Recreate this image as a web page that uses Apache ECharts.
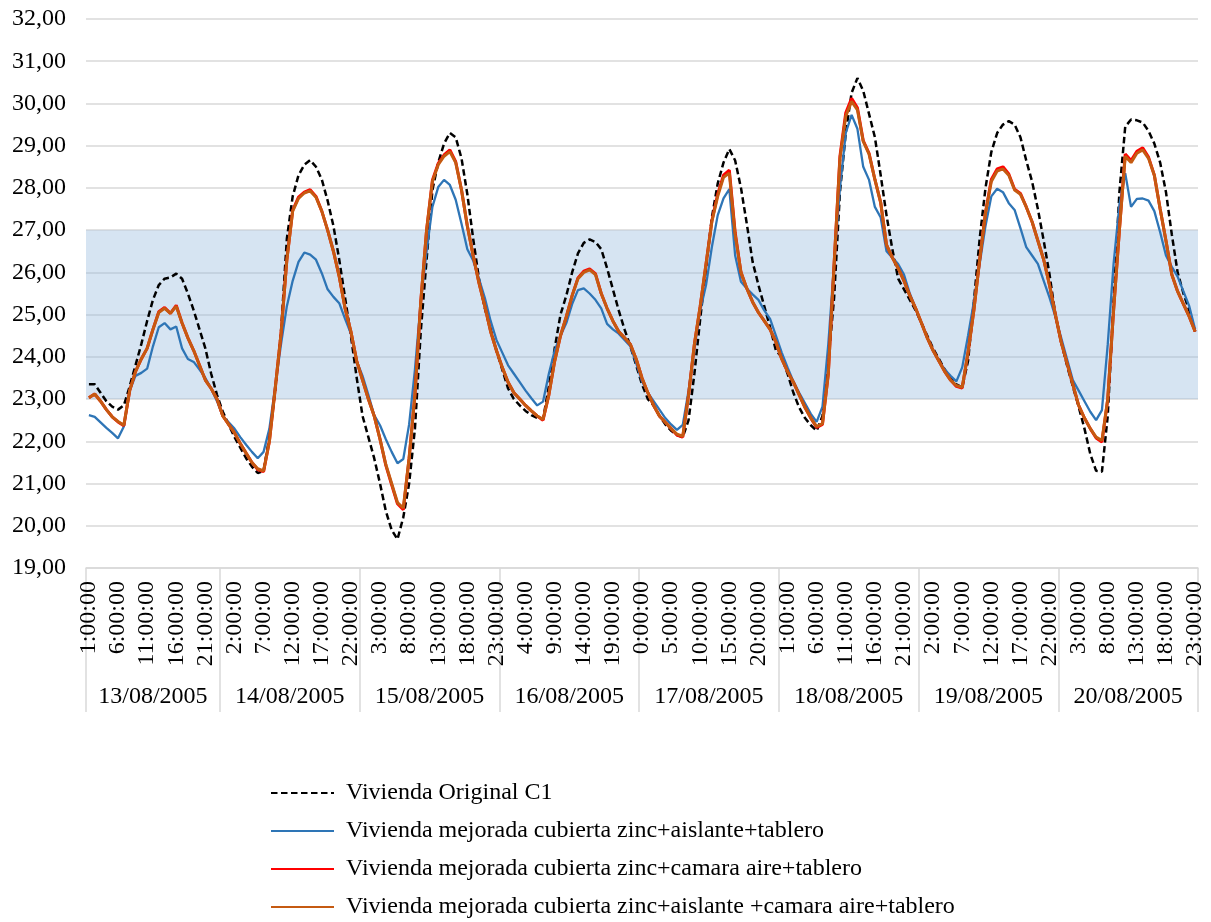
<!DOCTYPE html>
<html>
<head>
<meta charset="utf-8">
<script src="https://cdn.jsdelivr.net/npm/echarts@6/dist/echarts.min.js"></script>
<style>html,body{margin:0;padding:0;background:#fff}#c{width:1211px;height:922px}</style>
</head>
<body>
<div id="c"></div>
<script>
// ---- data ----
const days = ['13/08/2005','14/08/2005','15/08/2005','16/08/2005','17/08/2005','18/08/2005','19/08/2005','20/08/2005'];
const firstHour = 1; // first reading 13/08/2005 1:00:00, hourly

const seriesNames = [
  'Vivienda Original C1',
  'Vivienda mejorada cubierta zinc+aislante+tablero',
  'Vivienda mejorada cubierta zinc+camara aire+tablero',
  'Vivienda mejorada cubierta zinc+aislante +camara aire+tablero'
];

const original = [
  23.35,23.35,23.15,22.95,22.82,22.75,22.85,23.3,23.8,24.3,24.85,25.35,25.7,25.85,25.88,25.97,25.85,25.5,25.1,24.65,24.2,23.6,23.1,
  22.7,22.4,22.1,21.85,21.6,21.4,21.25,21.3,22.1,23.2,24.6,26.8,27.8,28.3,28.55,28.66,28.5,28.2,27.7,27.1,26.3,25.4,24.5,23.5,
  22.6,22.1,21.6,21.0,20.35,19.9,19.68,20.2,21.0,22.3,24.6,26.3,27.95,28.6,29.05,29.3,29.2,28.7,27.85,26.8,25.85,25.15,24.65,24.15,
  23.7,23.25,23.0,22.85,22.72,22.62,22.55,22.52,23.3,24.2,25.0,25.45,26.0,26.45,26.7,26.78,26.72,26.55,26.1,25.6,25.1,24.65,24.25,23.8,
  23.35,23.0,22.85,22.6,22.4,22.25,22.15,22.1,22.5,23.6,24.9,26.1,27.3,28.1,28.6,28.92,28.65,28.0,27.15,26.25,25.7,25.2,24.7,24.15,
  24.0,23.6,23.15,22.8,22.55,22.38,22.25,22.6,23.9,25.4,27.9,29.3,30.25,30.6,30.3,29.75,29.2,28.3,27.35,26.55,25.85,25.6,25.35,25.1,
  24.8,24.5,24.2,23.95,23.7,23.5,23.35,23.28,23.9,25.3,26.8,28.0,28.85,29.3,29.5,29.58,29.5,29.2,28.65,28.15,27.5,26.75,25.95,25.0,
  24.35,23.8,23.3,22.82,22.3,21.7,21.3,21.28,22.6,25.3,27.9,29.45,29.62,29.6,29.55,29.35,29.05,28.6,27.9,26.9,26.0,25.5,25.1,24.6
];

const zincAislante = [
  22.62,22.58,22.45,22.32,22.2,22.07,22.35,23.2,23.55,23.62,23.72,24.25,24.7,24.8,24.65,24.72,24.2,23.95,23.88,23.7,23.5,23.25,22.95,
  22.6,22.45,22.3,22.1,21.92,21.75,21.6,21.75,22.3,23.3,24.3,25.2,25.8,26.25,26.47,26.42,26.3,25.98,25.6,25.42,25.27,24.9,24.55,23.9,
  23.55,23.1,22.62,22.38,22.05,21.75,21.48,21.58,22.4,23.7,25.3,26.5,27.55,28.02,28.19,28.07,27.72,27.15,26.55,26.28,25.85,25.4,24.85,24.4,
  24.1,23.8,23.6,23.4,23.2,23.02,22.85,22.94,23.6,24.15,24.5,24.8,25.25,25.58,25.62,25.5,25.35,25.15,24.78,24.65,24.55,24.4,24.25,23.85,
  23.42,23.15,22.95,22.75,22.55,22.4,22.27,22.39,23.2,24.2,25.1,25.7,26.6,27.35,27.75,27.97,26.4,25.78,25.62,25.48,25.35,25.1,24.9,24.5,
  24.1,23.75,23.42,23.15,22.9,22.65,22.46,22.82,24.3,26.2,28.0,29.3,29.73,29.4,28.5,28.19,27.55,27.3,26.5,26.35,26.2,25.95,25.5,25.15,
  24.8,24.45,24.15,23.9,23.7,23.55,23.42,23.75,24.5,25.3,26.2,27.1,27.8,27.98,27.9,27.64,27.48,27.05,26.6,26.4,26.2,25.8,25.4,24.95,
  24.45,23.95,23.45,23.2,22.95,22.7,22.5,22.74,24.3,26.2,27.6,28.35,27.55,27.74,27.75,27.7,27.45,26.95,26.4,26.13,25.9,25.55,25.2,24.65
];

const zincCamara = [
  23.03,23.12,22.95,22.75,22.58,22.46,22.37,23.2,23.65,23.95,24.2,24.65,25.07,25.17,25.03,25.22,24.8,24.45,24.15,23.8,23.45,23.25,23.0,
  22.6,22.4,22.2,21.95,21.72,21.5,21.33,21.28,22.0,23.25,24.55,26.3,27.47,27.78,27.9,27.96,27.8,27.45,27.0,26.5,25.9,25.15,24.6,23.9,
  23.45,23.0,22.6,22.05,21.43,20.97,20.52,20.38,21.6,23.1,25.3,27.0,28.18,28.58,28.78,28.9,28.62,27.95,27.1,26.4,25.75,25.2,24.6,24.15,
  23.75,23.4,23.15,23.0,22.85,22.72,22.6,22.5,23.1,23.9,24.5,24.95,25.45,25.87,26.03,26.08,25.97,25.5,25.15,24.85,24.6,24.45,24.3,23.95,
  23.5,23.15,22.85,22.6,22.45,22.3,22.15,22.1,23.1,24.3,25.2,26.2,27.22,27.85,28.3,28.42,26.95,26.0,25.62,25.3,25.05,24.85,24.65,24.35,
  23.95,23.65,23.4,23.1,22.8,22.55,22.33,22.4,23.6,26.2,28.75,29.78,30.12,29.9,29.12,28.82,28.2,27.65,26.65,26.35,26.1,25.8,25.45,25.15,
  24.8,24.45,24.15,23.9,23.65,23.45,23.3,23.26,24.1,25.1,26.3,27.42,28.2,28.45,28.5,28.33,27.97,27.87,27.55,27.2,26.75,26.3,25.7,25.0,
  24.35,23.85,23.35,22.85,22.55,22.3,22.08,21.98,23.0,25.1,27.0,28.8,28.65,28.87,28.95,28.73,28.3,27.5,26.75,25.95,25.55,25.25,24.95,24.6
];

const zincAislanteCamara = [
  23.03,23.12,22.95,22.75,22.58,22.47,22.38,23.2,23.65,23.95,24.2,24.65,25.05,25.15,25.03,25.2,24.8,24.45,24.15,23.8,23.45,23.25,23.0,
  22.6,22.4,22.2,21.95,21.72,21.5,21.35,21.3,22.0,23.25,24.55,26.3,27.45,27.75,27.88,27.93,27.78,27.45,27.0,26.5,25.9,25.15,24.6,23.9,
  23.45,23.0,22.6,22.05,21.45,21.0,20.55,20.42,21.6,23.1,25.3,27.0,28.15,28.55,28.75,28.86,28.6,27.95,27.1,26.4,25.75,25.2,24.6,24.15,
  23.75,23.4,23.15,23.0,22.85,22.72,22.6,22.52,23.1,23.9,24.5,24.95,25.45,25.85,26.0,26.06,25.95,25.5,25.15,24.85,24.6,24.45,24.3,23.95,
  23.5,23.15,22.85,22.6,22.45,22.3,22.17,22.12,23.1,24.3,25.2,26.2,27.2,27.8,28.25,28.35,26.9,26.0,25.62,25.3,25.05,24.85,24.65,24.35,
  23.95,23.65,23.4,23.1,22.8,22.55,22.35,22.42,23.6,26.2,28.7,29.7,30.05,29.85,29.1,28.8,28.2,27.65,26.65,26.35,26.1,25.8,25.45,25.15,
  24.8,24.45,24.15,23.9,23.65,23.45,23.32,23.28,24.1,25.1,26.3,27.4,28.15,28.4,28.45,28.3,27.95,27.85,27.55,27.2,26.75,26.3,25.7,25.0,
  24.35,23.85,23.35,22.85,22.55,22.3,22.1,22.02,23.0,25.1,27.0,28.75,28.6,28.82,28.9,28.7,28.3,27.5,26.75,25.95,25.55,25.25,24.95,24.6
];

const comfortBand = [23, 27];
const yMin = 19, yMax = 32, yStep = 1;

// ---- derived categories ----
const n = original.length;
const hourLabels = [];
const dayStarts = [];
for (let i = 0; i < n; i++) {
  const h = (firstHour + i) % 24;
  hourLabels.push(h + ':00:00');
  if (h === 0) dayStarts.push(i);
}
const bounds = [0].concat(dayStarts, [n]);
const centers = [];
for (let k = 0; k < bounds.length - 1; k++) centers.push((bounds[k] + bounds[k + 1]) / 2);

const FONT = '"Liberation Serif", "Times New Roman", serif';
const GRID = '#D9D9D9';

const chart = echarts.init(document.getElementById('c'), null, {renderer: 'canvas'});
chart.setOption({
  animation: false,
  backgroundColor: '#fff',
  grid: {left: 86, right: 13, top: 19, bottom: 354, outerBoundsMode: 'none'},
  legend: {
    orient: 'vertical', left: 270, top: 781, padding: 0,
    itemWidth: 63, itemHeight: 14, itemGap: 14,
    itemStyle: {opacity: 0},
    textStyle: {fontFamily: FONT, fontSize: 24, color: '#000', lineHeight: 24, padding: [0, 0, 0, 7]},
    data: seriesNames
  },
  xAxis: [
    {
      type: 'category', data: hourLabels, boundaryGap: true, position: 'bottom',
      axisLine: {lineStyle: {color: GRID, width: 1.5}},
      axisTick: {show: false},
      axisLabel: {interval: 4, rotate: 90, margin: 13, fontFamily: FONT, fontSize: 24, color: '#000'},
      splitLine: {show: false}
    },
    {
      type: 'value', min: 0, max: n, position: 'bottom',
      axisLine: {show: false},
      axisTick: {show: true, customValues: bounds, length: 144, lineStyle: {color: GRID, width: 1.5}},
      axisLabel: {
        customValues: centers, margin: 117, fontFamily: FONT, fontSize: 24, color: '#000',
        formatter: function (v) { const k = centers.indexOf(v); return k >= 0 ? days[k] : ''; }
      },
      splitLine: {show: false}
    }
  ],
  yAxis: {
    type: 'value', min: yMin, max: yMax, interval: yStep,
    axisLine: {show: false}, axisTick: {show: false},
    splitLine: {lineStyle: {color: GRID, width: 1.5}},
    axisLabel: {
      margin: 20, fontFamily: FONT, fontSize: 24, color: '#000',
      formatter: function (v) { return v.toFixed(2).replace('.', ','); }
    }
  },
  series: [
    {
      name: seriesNames[0], type: 'line', data: original, symbol: 'none',
      lineStyle: {color: '#000', width: 2.5, type: [6.5, 3.5]}, itemStyle: {color: '#000'},
      markArea: {
        silent: true,
        itemStyle: {color: 'rgba(146,185,222,0.38)'},
        data: [[{yAxis: comfortBand[0]}, {yAxis: comfortBand[1]}]]
      }
    },
    {
      name: seriesNames[1], type: 'line', data: zincAislante, symbol: 'none',
      lineStyle: {color: '#2E75B6', width: 2.3}, itemStyle: {color: '#2E75B6'}
    },
    {
      name: seriesNames[2], type: 'line', data: zincCamara, symbol: 'none',
      lineStyle: {color: '#FF0000', width: 3}, itemStyle: {color: '#FF0000'}
    },
    {
      name: seriesNames[3], type: 'line', data: zincAislanteCamara, symbol: 'none',
      lineStyle: {color: '#C55A11', width: 3}, itemStyle: {color: '#C55A11'}
    }
  ]
});
</script>
</body>
</html>
